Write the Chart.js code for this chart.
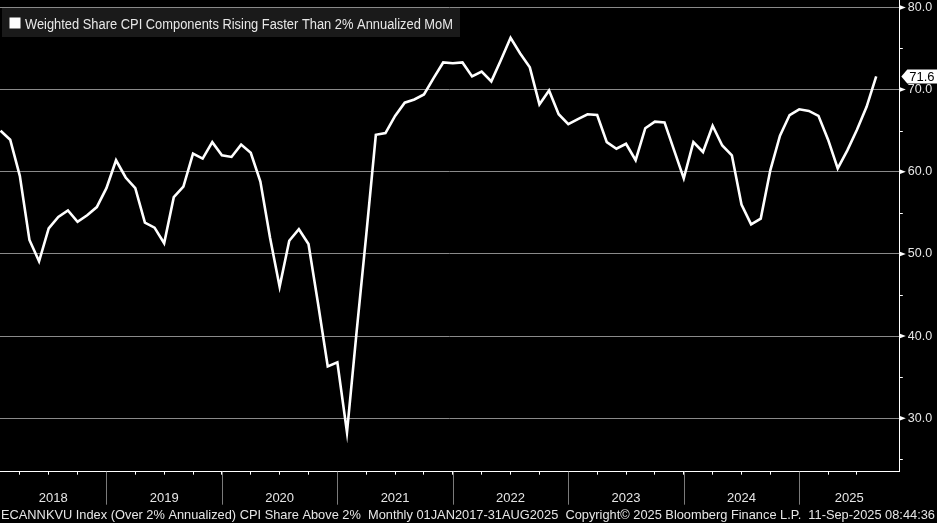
<!DOCTYPE html>
<html><head><meta charset="utf-8">
<script src="https://cdn.jsdelivr.net/npm/chart.js@4.4.1/dist/chart.umd.min.js"></script>
<style>html,body{margin:0;padding:0;background:#000;overflow:hidden}</style>
</head><body>
<canvas id="c" width="937" height="523"></canvas>
<script>
// ---- data ----
const seriesName = "Weighted Share CPI Components Rising Faster Than 2% Annualized MoM";
const footerText = "ECANNKVU Index (Over 2% Annualized) CPI Share Above 2%  Monthly 01JAN2017-31AUG2025  Copyright\u00A9 2025 Bloomberg Finance L.P.  11-Sep-2025 08:44:36";
const months = [
 "2018-01","2018-02","2018-03","2018-04","2018-05","2018-06","2018-07","2018-08","2018-09","2018-10","2018-11","2018-12",
 "2019-01","2019-02","2019-03","2019-04","2019-05","2019-06","2019-07","2019-08","2019-09","2019-10","2019-11","2019-12",
 "2020-01","2020-02","2020-03","2020-04","2020-05","2020-06","2020-07","2020-08","2020-09","2020-10","2020-11","2020-12",
 "2021-01","2021-02","2021-03","2021-04","2021-05","2021-06","2021-07","2021-08","2021-09","2021-10","2021-11","2021-12",
 "2022-01","2022-02","2022-03","2022-04","2022-05","2022-06","2022-07","2022-08","2022-09","2022-10","2022-11","2022-12",
 "2023-01","2023-02","2023-03","2023-04","2023-05","2023-06","2023-07","2023-08","2023-09","2023-10","2023-11","2023-12",
 "2024-01","2024-02","2024-03","2024-04","2024-05","2024-06","2024-07","2024-08","2024-09","2024-10","2024-11","2024-12",
 "2025-01","2025-02","2025-03","2025-04","2025-05","2025-06","2025-07","2025-08"
];
const shareAbove2 = [
 65.0,63.9,59.5,51.7,49.1,53.1,54.5,55.3,53.9,54.7,55.7,58.0,
 61.4,59.3,58.0,53.8,53.2,51.3,56.9,58.2,62.2,61.6,63.6,62.0,
 61.8,63.3,62.3,58.8,52.0,46.0,51.6,53.0,51.2,43.9,36.3,36.8,
 28.3,40.5,52.3,64.5,64.7,66.8,68.4,68.8,69.4,71.4,73.3,73.2,
 73.3,71.6,72.2,71.0,73.6,76.3,74.4,72.7,68.2,69.9,67.0,65.8,
 66.4,67.0,66.9,63.6,62.8,63.4,61.4,65.3,66.1,66.0,62.6,59.2,
 63.6,62.4,65.6,63.2,62.0,56.0,53.6,54.3,60.2,64.4,66.9,67.6,
 67.4,66.8,63.9,60.4,62.6,65.1,67.9,71.6
];
const years = ["2018","2019","2020","2021","2022","2023","2024","2025"];
const yTickValues = [25,30,35,40,45,50,55,60,65,70,75,80];
const yLabelValues = [30,40,50,60,70,80];

// ---- helpers ----
const pts = shareAbove2.map((v,i)=>({x:i,y:v}));
const quarterTicks = months.map((m,i)=>i).filter(i=>(i%3)===2);
const font = "'Liberation Sans', Arial, sans-serif";

const bg = { id:'bg', beforeDraw(chart){ const c=chart.ctx; c.save(); c.fillStyle='#000'; c.fillRect(0,0,chart.width,chart.height); c.restore(); } };

const decor = { id:'decor', afterDraw(chart){
  const ctx=chart.ctx, xs=chart.scales.x, ys=chart.scales.y, ca=chart.chartArea;
  ctx.save();
  // right axis tick marks
  ctx.fillStyle='#ffffff'; ctx.strokeStyle='#ffffff'; ctx.lineWidth=1;
  yTickValues.forEach(v=>{
    const y=ys.getPixelForValue(v);
    if (yLabelValues.includes(v)) {
      ctx.beginPath(); ctx.moveTo(ca.right, y-2.5); ctx.lineTo(ca.right+6.5, y); ctx.lineTo(ca.right, y+2.5); ctx.closePath(); ctx.fill();
    } else {
      const yy=Math.round(y)+0.5;
      ctx.beginPath(); ctx.moveTo(ca.right, yy); ctx.lineTo(ca.right+3.5, yy); ctx.stroke();
    }
  });
  // year separators and labels
  ctx.strokeStyle='#7a7a7a';
  years.forEach((yr,k)=>{
    const endIdx = 12*k+11;
    const xe = xs.getPixelForValue(endIdx);
    if (xe < ca.right) {
      const xx=Math.round(xe)+0.5;
      ctx.beginPath(); ctx.moveTo(xx, ca.bottom); ctx.lineTo(xx, ca.bottom+33); ctx.stroke();
    }
    const xs0 = Math.max(ca.left, xs.getPixelForValue(12*k-1));
    const xs1 = Math.min(ca.right, xe);
    ctx.fillStyle='#e6e6e6'; ctx.font="13px "+font; ctx.textAlign='center'; ctx.textBaseline='alphabetic';
    ctx.fillText(yr, (xs0+xs1)/2, 501.5);
  });
  // footer
  ctx.fillStyle='#e6e6e6'; ctx.font="13.5px "+font; ctx.textAlign='left';
  ctx.fillText(footerText, 1, 519, 934);
  // legend box
  ctx.fillStyle='#1a1a1a'; ctx.fillRect(2,8,458,29);
  ctx.fillStyle='#ffffff'; ctx.fillRect(9.5,17.5,11,11);
  ctx.fillStyle='#e8e8e8'; ctx.font="14px "+font; ctx.textAlign='left';
  ctx.fillText(seriesName, 25, 29.3, 428);
  // last value tag
  const last = shareAbove2[shareAbove2.length-1];
  const yv = ys.getPixelForValue(last);
  const x0 = ca.right+2;
  ctx.fillStyle='#ffffff';
  ctx.beginPath(); ctx.moveTo(x0, yv); ctx.lineTo(x0+6, yv-7); ctx.lineTo(937, yv-7); ctx.lineTo(937, yv+7); ctx.lineTo(x0+6, yv+7); ctx.closePath(); ctx.fill();
  ctx.fillStyle='#000000'; ctx.font="13px "+font; ctx.textAlign='left'; ctx.textBaseline='middle';
  ctx.fillText(last.toFixed(1), x0+8, yv+1);
  ctx.restore();
}};

new Chart(document.getElementById('c'), {
  type:'line',
  data:{ labels: months, datasets:[{ label: seriesName, data: pts, borderColor:'#ffffff', borderWidth:2.6, pointRadius:0, tension:0, fill:false, borderJoinStyle:'miter' }] },
  options:{
    responsive:false, animation:false, devicePixelRatio:1,
    layout:{ padding:0, autoPadding:false },
    plugins:{ legend:{display:false}, tooltip:{enabled:false} },
    scales:{
      x:{ type:'linear', min:-0.06, max:93.4,
          afterBuildTicks(s){ s.ticks = quarterTicks.map(v=>({value:v})); },
          afterFit(s){ s.height = 51.3; s.paddingLeft=0; s.paddingRight=0; s.paddingTop=0; s.paddingBottom=0; },
          ticks:{ display:false },
          grid:{ drawOnChartArea:false, drawTicks:true, tickLength:3, color:'#ffffff' },
          border:{ display:true, color:'#ffffff', width:1 } },
      y:{ position:'right', min:23.5, max:80.9,
          afterBuildTicks(s){ s.ticks = yTickValues.map(v=>({value:v})); },
          afterFit(s){ s.width = 37.7; s.paddingTop=0; s.paddingBottom=0; s.paddingLeft=0; s.paddingRight=0; },
          ticks:{ color:'#e6e6e6', padding:8.5, font:{ family:"'Liberation Sans', Arial, sans-serif", size:12.5 },
                  callback:(v)=> yLabelValues.includes(v) ? Number(v).toFixed(1) : '' },
          grid:{ drawTicks:false, color:(c)=> yLabelValues.includes(c.tick && c.tick.value) ? '#8a8a8a' : 'rgba(0,0,0,0)', lineWidth:1 },
          border:{ display:true, color:'#ffffff', width:1 } }
    }
  },
  plugins:[bg, decor]
});
</script>
</body></html>
